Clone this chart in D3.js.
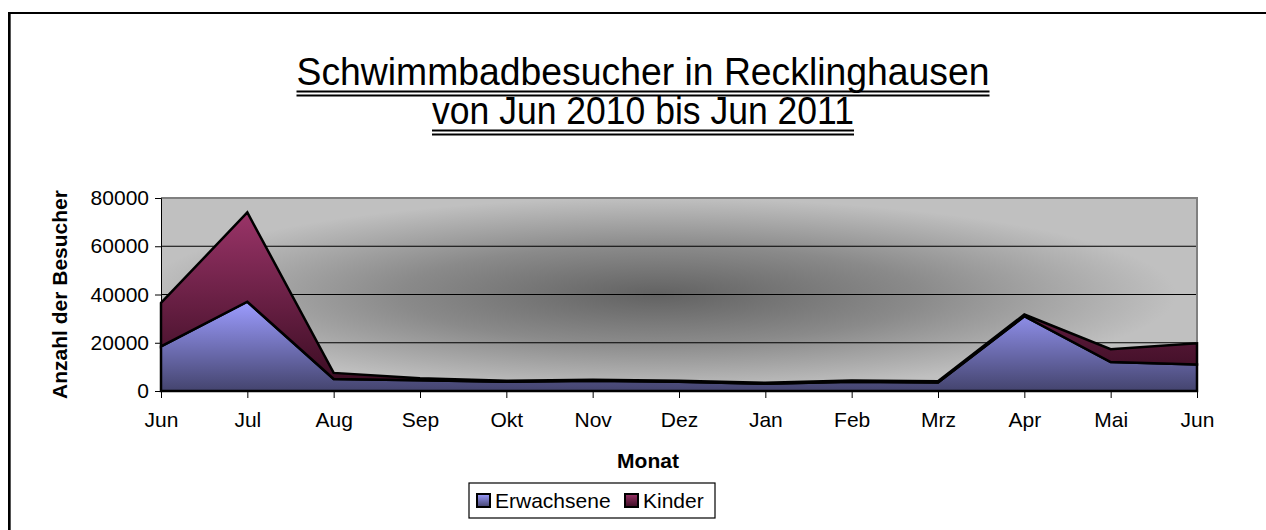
<!DOCTYPE html>
<html>
<head>
<meta charset="utf-8">
<script src="https://cdn.jsdelivr.net/npm/d3@7"></script>
<style>
  html, body { margin: 0; padding: 0; background: #fff; overflow: hidden; }
  svg { display: block; overflow: hidden; font-family: "Liberation Sans", Arial, sans-serif; }
</style>
</head>
<body>
<svg id="chart" width="1266" height="530"></svg>
<script>
// data
var months = ["Jun", "Jul", "Aug", "Sep", "Okt", "Nov", "Dez", "Jan", "Feb", "Mrz", "Apr", "Mai", "Jun"]
var erwachsene = [18500, 37000, 5000, 4500, 3800, 4200, 3800, 3000, 3800, 3500, 31000, 12000, 11000]
var kinder = [18000, 37000, 2500, 800, 400, 500, 500, 400, 600, 500, 700, 5300, 8800]
var yTicks = [0, 20000, 40000, 60000, 80000]
var seriesNames = ["Erwachsene", "Kinder"]

var svg = d3.select("#chart")
var plot = {left: 161, right: 1197, top: 198, bottom: 391}
var fontSize = 21

var rows = months.map(function(m, i) {
  return {i: i, Erwachsene: erwachsene[i], Kinder: kinder[i]}
})

var x = d3.scalePoint().domain(d3.range(months.length)).range([plot.left, plot.right])
var y = d3.scaleLinear().domain([0, 80000]).range([plot.bottom, plot.top])

// gradients
var defs = svg.append("defs")
var bg = defs.append("radialGradient").attr("id", "bgGrad")
  .attr("cx", 0.48).attr("cy", 0.5).attr("r", 0.5)
bg.append("stop").attr("offset", 0).attr("stop-color", "#626262")
bg.append("stop").attr("offset", 0.5).attr("stop-color", "#8a8a8a")
bg.append("stop").attr("offset", 1).attr("stop-color", "#c0c0c0")

var gE = defs.append("linearGradient").attr("id", "gradE").attr("x1", 0).attr("y1", 0).attr("x2", 0).attr("y2", 1)
gE.append("stop").attr("offset", 0).attr("stop-color", "#9c9cff")
gE.append("stop").attr("offset", 1).attr("stop-color", "#44446e")
var gK = defs.append("linearGradient").attr("id", "gradK").attr("x1", 0).attr("y1", 0).attr("x2", 0).attr("y2", 1)
gK.append("stop").attr("offset", 0).attr("stop-color", "#9a3468")
gK.append("stop").attr("offset", 1).attr("stop-color", "#3a0c22")
var fills = {Erwachsene: "url(#gradE)", Kinder: "url(#gradK)"}

// outer frame: only its top and left edges fall inside the picture
svg.append("line").attr("x1", 8).attr("x2", 1266).attr("y1", 13).attr("y2", 13)
  .attr("stroke", "#000").attr("stroke-width", 2)
svg.append("line").attr("x1", 9).attr("x2", 9).attr("y1", 12).attr("y2", 530)
  .attr("stroke", "#000").attr("stroke-width", 2)
svg.append("line").attr("x1", 10.5).attr("x2", 10.5).attr("y1", 14).attr("y2", 530)
  .attr("stroke", "#555").attr("stroke-width", 1)

// title
var title = svg.append("g").attr("font-size", 38).attr("text-anchor", "middle")
var titleLines = ["Schwimmbadbesucher in Recklinghausen", "von Jun 2010 bis Jun 2011"]
var titleWidths = [693, 422]
titleLines.forEach(function(t, k) {
  var yb = 85 + k * 39
  var w = titleWidths[k]
  title.append("text").attr("x", 643).attr("y", yb)
    .attr("textLength", w).attr("lengthAdjust", "spacingAndGlyphs").text(t)
  ;[6.5, 10.5].forEach(function(off) {
    title.append("line").attr("x1", 643 - w / 2).attr("x2", 643 + w / 2)
      .attr("y1", yb + off).attr("y2", yb + off).attr("stroke", "#000").attr("stroke-width", 1.8)
  })
})

// plot background
svg.append("rect").attr("x", plot.left).attr("y", plot.top)
  .attr("width", plot.right - plot.left).attr("height", plot.bottom - plot.top)
  .attr("fill", "url(#bgGrad)")

// grid
svg.append("g").selectAll("line").data(yTicks.filter(function(d) { return d > 0 && d < 80000 }))
  .join("line")
  .attr("x1", plot.left).attr("x2", plot.right)
  .attr("y1", function(d) { return y(d) }).attr("y2", function(d) { return y(d) })
  .attr("stroke", "#000").attr("stroke-width", 1)

// plot border (top/right gray)
svg.append("path")
  .attr("d", "M" + plot.left + "," + plot.top + "H" + plot.right + "V" + plot.bottom)
  .attr("fill", "none").attr("stroke", "#808080").attr("stroke-width", 2)

// stacked areas
var stack = d3.stack().keys(seriesNames)
var series = stack(rows)
var area = d3.area()
  .x(function(d) { return x(d.data.i) })
  .y0(function(d) { return y(d[0]) })
  .y1(function(d) { return y(d[1]) })

svg.append("g").selectAll("path").data(series).join("path")
  .attr("d", function(s) { return area(s) + "Z" })
  .attr("fill", function(s) { return fills[s.key] })
  .attr("stroke", "#000").attr("stroke-width", 2.5).attr("stroke-linejoin", "miter")

// axes
var yAxis = d3.axisLeft(y).tickValues(yTicks).tickSize(6).tickPadding(6).tickFormat(d3.format("d"))
svg.append("g").attr("transform", "translate(" + plot.left + ",0)").call(yAxis)
  .call(function(g) {
    g.select(".domain").attr("stroke", "#000")
    g.selectAll("text").attr("font-size", fontSize).attr("font-family", "Liberation Sans, Arial, sans-serif").attr("fill", "#000")
  })

var xAxis = d3.axisBottom(x).tickSize(7).tickPadding(14).tickFormat(function(i) { return months[i] })
svg.append("g").attr("transform", "translate(0," + plot.bottom + ")").call(xAxis)
  .call(function(g) {
    g.select(".domain").attr("stroke", "#000")
    g.selectAll("text").attr("font-size", fontSize).attr("font-family", "Liberation Sans, Arial, sans-serif").attr("fill", "#000")
  })

// axis titles
svg.append("text").attr("transform", "translate(67," + (plot.top + plot.bottom) / 2 + ") rotate(-90)")
  .attr("text-anchor", "middle").attr("font-size", fontSize).attr("font-weight", "bold").text("Anzahl der Besucher")
svg.append("text").attr("x", 648).attr("y", 468)
  .attr("text-anchor", "middle").attr("font-size", fontSize).attr("font-weight", "bold").text("Monat")

// legend
var legend = svg.append("g").attr("transform", "translate(469,483)")
legend.append("rect").attr("width", 246).attr("height", 35)
  .attr("fill", "#fff").attr("stroke", "#000").attr("stroke-width", 1.2)
var legX = [8, 156]
seriesNames.forEach(function(n, k) {
  var g = legend.append("g").attr("transform", "translate(" + legX[k] + ",0)")
  g.append("rect").attr("x", 0).attr("y", 11).attr("width", 13).attr("height", 13)
    .attr("fill", fills[n]).attr("stroke", "#000").attr("stroke-width", 2)
  g.append("text").attr("x", 18).attr("y", 25).attr("font-size", fontSize).text(n)
})
</script>
</body>
</html>
